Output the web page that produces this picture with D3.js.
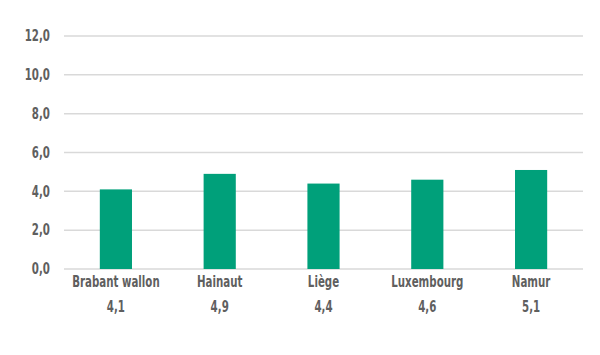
<!DOCTYPE html>
<html><head><meta charset="utf-8">
<script src="https://cdn.jsdelivr.net/npm/d3@7"></script>
<style>body{margin:0;background:#fff}</style>
</head><body>
<svg id="c" width="600" height="355"></svg>
<script>
const categories = ["Brabant wallon","Hainaut","Liège","Luxembourg","Namur"];
const values = [4.1, 4.9, 4.4, 4.6, 5.1];
const yTicks = [0,2,4,6,8,10,12];

(function(){
const svg = d3.select("#c");
const font = "'DejaVu Sans Condensed','Liberation Sans Narrow',sans-serif";
const mL = 64, mR = 583, mT = 36, mB = 269;
const sx = 0.76, fs = 15;
const x = d3.scaleBand().domain(categories).range([mL,mR]).paddingInner(0.69).paddingOuter(0.345);
const y = d3.scaleLinear().domain([0,12]).range([mB, mT]);
const fmt = v => d3.format(".1f")(v).replace(".", ",");

svg.append("g").selectAll("line").data(yTicks).join("line")
  .attr("x1", mL).attr("x2", mR)
  .attr("y1", d=>y(d)).attr("y2", d=>y(d))
  .attr("stroke", "#d9d9d9").attr("stroke-width", 1.5);

svg.append("g").selectAll("text").data(yTicks).join("text")
  .attr("transform", d=>`translate(50,${y(d)}) scale(${sx},1)`).attr("dy","0.35em")
  .attr("text-anchor","end").attr("font-family",font).attr("font-size",fs)
  .attr("font-weight","bold").attr("fill","#5f5f5f").text(fmt);

svg.append("g").selectAll("rect").data(values).join("rect")
  .attr("x",(d,i)=>x(categories[i])).attr("width",x.bandwidth())
  .attr("y",d=>y(d)).attr("height",d=>y(0)-y(d)).attr("fill","#00a07a");

svg.append("g").selectAll("text").data(categories).join("text")
  .attr("transform", d=>`translate(${x(d)+x.bandwidth()/2},287) scale(${sx},1)`)
  .attr("text-anchor","middle").attr("font-family",font).attr("font-size",fs)
  .attr("font-weight","bold").attr("fill","#5f5f5f").text(d=>d);

svg.append("g").selectAll("text").data(values).join("text")
  .attr("transform", (d,i)=>`translate(${x(categories[i])+x.bandwidth()/2},312) scale(${sx},1)`)
  .attr("text-anchor","middle").attr("font-family",font).attr("font-size",fs)
  .attr("font-weight","bold").attr("fill","#5f5f5f").text(fmt);
})();
</script>
</body></html>
